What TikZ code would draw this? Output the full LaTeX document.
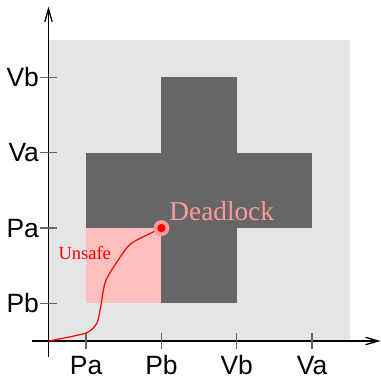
\documentclass[tikz,border=0pt]{standalone}
\usepackage{fontspec}
\setmainfont{Liberation Serif}
\setsansfont{Liberation Sans}
\usetikzlibrary{arrows.meta, positioning}
\definecolor{bggray}{HTML}{E5E5E5}
\definecolor{blockgray}{HTML}{666666}
\definecolor{unsafepink}{HTML}{FFBFBF}
\definecolor{deadpink}{HTML}{FF9999}

\begin{document}
\begin{tikzpicture}[
  axis/.style={-{Straight Barb[length=4.8pt, width=2.8pt]}, line width=0.5pt},
  tickmark/.style={black!60, line width=0.5pt},
  ticklab/.style={font=\sffamily\fontsize{10}{12}\selectfont, inner sep=0pt},
  trace/.style={red, line width=0.45pt},
  dot/.style={circle, inner sep=0pt, draw=none}
]
\useasboundingbox (-0.644,-0.465) rectangle (4.416,4.529);

% regions
\fill[bggray] (0,0) rectangle (4,4);
\fill[blockgray] (1.5,0.5) rectangle (2.5,3.5);
\fill[blockgray] (0.5,1.5) rectangle (3.5,2.5);
\fill[unsafepink] (0.5,0.5) rectangle (1.5,1.5);

% axes
\coordinate (o) at (0,0);
\coordinate (xl) at (-0.22,0);
\coordinate (xr) at (4.41,0);
\coordinate (yb) at (0,-0.21);
\coordinate (yt) at (0,4.44);
\draw[axis] (xl) -- (xr);
\draw[axis] (yb) -- (yt);

\foreach \x/\name in {0.5/Pa, 1.5/Pb, 2.5/Vb, 3.5/Va} {
  \draw[tickmark] (\x,-0.11) -- (\x,0.11);
  \node[ticklab, anchor=base] (x\name) at (\x,-0.44) {\name};
}
\foreach \y/\name in {0.5/Pb, 1.5/Pa, 2.5/Va, 3.5/Vb} {
  \draw[tickmark] (-0.11,\y) -- (0.11,\y);
  \node[ticklab, anchor=east] (y\name) at (-0.12,\y) {\name};
}

% execution path
\coordinate (dl) at (1.5,1.5);
\draw[trace] plot[smooth, tension=0.4] coordinates {(o) (0.498,0.106) (0.644,0.239) (0.697,0.478) (0.764,0.810) (1.016,1.208) (1.149,1.328) (dl)};
\node[dot, fill=deadpink, minimum size=2.1mm] (halo) at (dl) {};
\node[dot, fill=red, minimum size=1.1mm] (dead) at (dl) {};

\node[anchor=base west, inner sep=0pt, text=deadpink, font=\fontsize{10.3}{12}\selectfont] (deadlab) at (1.60,1.594) {Deadlock};
\node[anchor=base west, inner sep=0pt, text=red, font=\fontsize{7}{8}\selectfont] (unsafelab) at (0.126,1.089) {Unsafe};
\end{tikzpicture}
\end{document}
